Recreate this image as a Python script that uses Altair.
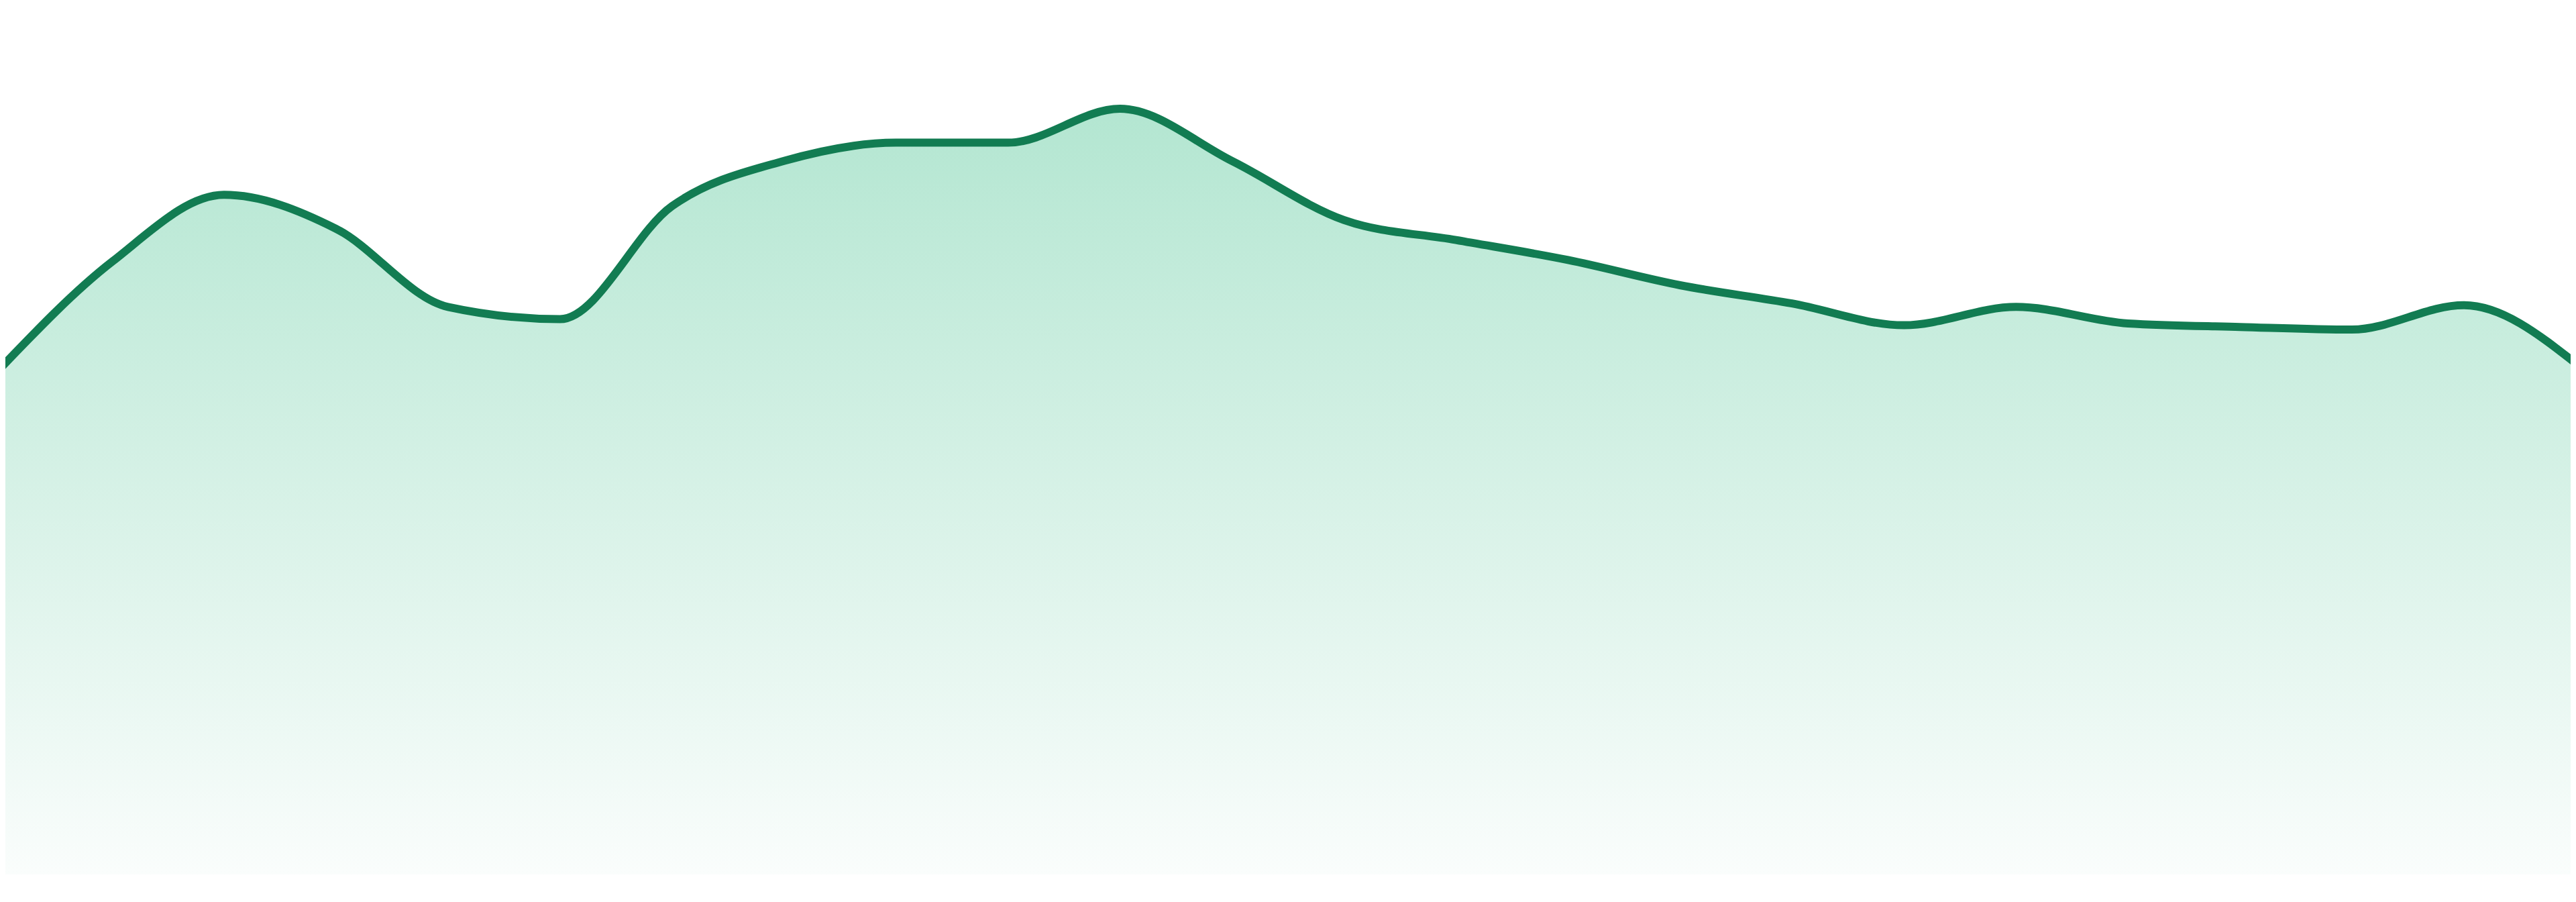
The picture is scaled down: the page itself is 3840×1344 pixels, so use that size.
import altair as alt
import pandas as pd

# Data (index positions and values)
idx = list(range(24))
values = [58.2, 70.5, 78.2, 74.3, 65.3, 63.9, 76.9, 82.1, 84.2, 84.2, 88.1, 82.1,
          75.3, 73.0, 70.7, 67.8, 65.7, 63.2, 65.3, 63.4, 63.0, 62.7, 65.5, 58.8]

df = pd.DataFrame({"i": idx, "v": values})

LINE = "#127c52"
PX_PER_STEP = 3840 / 23
x_lo = 8 / PX_PER_STEP
x_hi = x_lo + 3824 / PX_PER_STEP

x = alt.X("i:Q", axis=None, scale=alt.Scale(domain=[x_lo, x_hi], nice=False, zero=False))
y = alt.Y("v:Q", axis=None, scale=alt.Scale(domain=[0, 100], nice=False))

area = alt.Chart(df).mark_area(
    interpolate="monotone",
    clip=True,
    color=alt.Gradient(
        gradient="linear",
        x1=0, x2=0, y1=0, y2=1,
        stops=[alt.GradientStop(color="#b3e6d1", offset=0),
               alt.GradientStop(color="#fafdfc", offset=1)],
    ),
).encode(x=x, y=y)

line = alt.Chart(df).mark_line(
    interpolate="monotone", clip=True, color=LINE, strokeWidth=12
).encode(x=x, y=y)

chart = (area + line).properties(
    width=3824, height=1295, padding=0
).configure_view(strokeWidth=0)

chart.save("out.html", embed_options={"renderer": "svg", "actions": False})
